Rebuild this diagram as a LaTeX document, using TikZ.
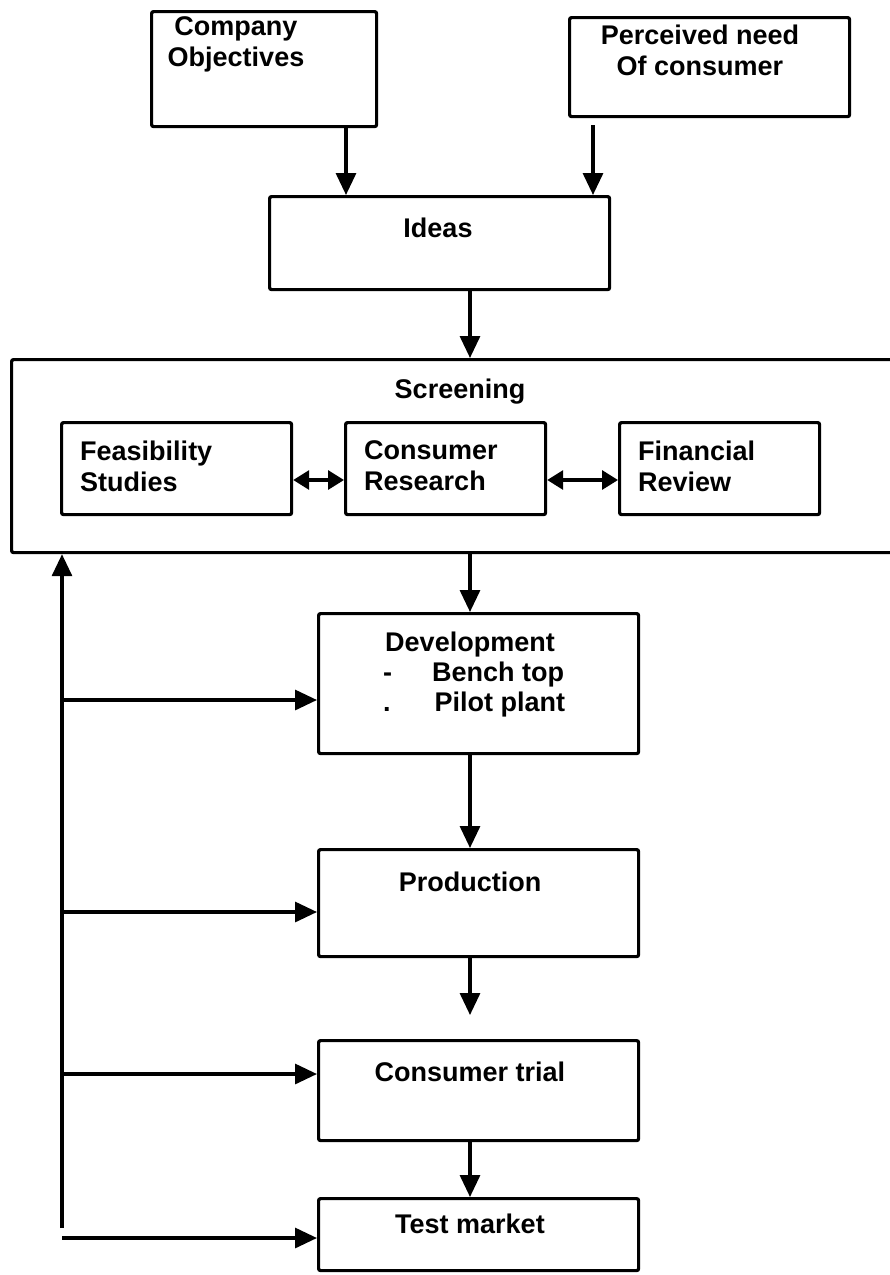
\documentclass[tikz,border=0pt]{standalone}
\usepackage{fontspec}
\setmainfont{Liberation Sans}
\usetikzlibrary{arrows.meta}
\begin{document}
\begin{tikzpicture}[x=1pt,y=-1pt,
  box/.style={draw, line width=3.2pt, rounded corners=2pt, anchor=north west, inner sep=0pt},
  lbl/.style={font=\bfseries\fontsize{27}{31}\selectfont, align=center, inner sep=0pt},
  lbll/.style={font=\bfseries\fontsize{27}{31}\selectfont, align=left, inner sep=0pt, anchor=west},
  arr/.style={line width=3.2pt, -{Triangle[length=22pt,width=20pt]}},
  dbl/.style={line width=3.2pt, {Triangle[length=16pt,width=19pt]}-{Triangle[length=16pt,width=19pt]}}]
\useasboundingbox (0,0) rectangle (890,1275);
% boxes
\node[box, minimum width=225pt, minimum height=115pt] (co) at (150,10) {};
\node[box, minimum width=280pt, minimum height=99pt] (pn) at (568,16) {};
\node[box, minimum width=340pt, minimum height=93pt] (id) at (268,195) {};
\node[box, minimum width=900pt, minimum height=193pt] (scr) at (10,358) {};
\node[box, minimum width=230pt, minimum height=92pt] (fs) at (60,421) {};
\node[box, minimum width=200pt, minimum height=92pt] (cr) at (344,421) {};
\node[box, minimum width=200pt, minimum height=92pt] (fr) at (618,421) {};
\node[box, minimum width=320pt, minimum height=140pt] (dev) at (317,612) {};
\node[box, minimum width=320pt, minimum height=107pt] (prod) at (317,848) {};
\node[box, minimum width=320pt, minimum height=100pt] (ct) at (317,1039) {};
\node[box, minimum width=320pt, minimum height=72pt] (tm) at (317,1197) {};
% texts
\node[lbl] (tco) at (236,44) {Company\\Objectives};
\node[lbl] (tpn) at (700,50) {Perceived need\\Of consumer};
\node[lbl] (tid) at (438,228) {Ideas};
\node[lbl] (tscr) at (460,392) {Screening};
\node[lbll] (tfs) at (80,466) {Feasibility\\Studies};
\node[lbll] (tcr) at (364,466) {Consumer\\Research};
\node[lbll] (tfr) at (638,466) {Financial\\Review};
\node[lbl] (tdev1) at (470,645) {Development};
\node[lbll] (tdev2) at (383,675) {-\hspace{40pt}Bench top};
\node[lbll] (tdev3) at (383,705) {.\hspace{44pt}Pilot plant};
\node[lbl] (tprod) at (470,882) {Production};
\node[lbl] (tct) at (470,1072) {Consumer trial};
\node[lbl] (ttm) at (470,1224) {Test market};
% vertical flow arrows
\draw[arr] (346,0 |- co.south) -- (346,0 |- id.north);
\draw[arr] (593,125) coordinate (pnb) -- (pnb |- id.north);
\draw[arr] (470,0 |- id.south) -- (470,0 |- scr.north);
\draw[arr] (470,0 |- scr.south) -- (470,0 |- dev.north);
\draw[arr] (470,0 |- dev.south) -- (470,0 |- prod.north);
\coordinate (pe) at (470,1015);
\draw[arr] (470,0 |- prod.south) -- (pe);
\draw[arr] (470,0 |- ct.south) -- (470,0 |- tm.north);
% double arrows
\draw[dbl] (fs.east |- 0,480) -- (cr.west |- 0,480);
\draw[dbl] (cr.east |- 0,480) -- (fr.west |- 0,480);
% feedback
\coordinate (fb) at (62,1228);
\draw[arr] (fb) -- (fb |- scr.south);
\coordinate (h1) at (62,700);
\coordinate (h2) at (62,912);
\coordinate (h3) at (62,1074);
\coordinate (h4) at (62,1238);
\draw[arr] (h1) -- (h1 -| dev.west);
\draw[arr] (h2) -- (h2 -| prod.west);
\draw[arr] (h3) -- (h3 -| ct.west);
\draw[arr] (h4) -- (h4 -| tm.west);
\end{tikzpicture}
\end{document}
